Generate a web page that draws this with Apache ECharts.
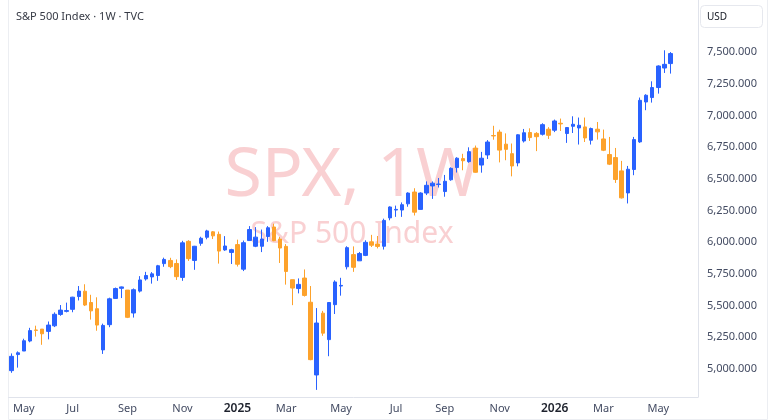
<!DOCTYPE html>
<html>
<head>
<meta charset="utf-8">
<script src="https://cdn.jsdelivr.net/npm/echarts@6/dist/echarts.min.js"></script>
<style>
  html, body { margin: 0; padding: 0; background: #ffffff; }
  #chart { width: 768px; height: 420px; }
</style>
</head>
<body>
<div id="chart"></div>
<script>
// weekly SPX candles, first bar = week of 2024-04-22
var firstWeek = Date.UTC(2024, 3, 22)

var opens = [
  4987, 5114, 5142, 5221, 5308, 5315, 5297, 5341, 5431, 5455,
  5471, 5572, 5614, 5525, 5476, 5151, 5350, 5557, 5637, 5623,
  5442, 5615, 5711, 5727, 5738, 5832, 5857, 5833, 5723, 6008,
  5857, 5992, 6040, 6083, 6063, 5940, 5920, 5982, 5788, 6014,
  5969, 5969, 6046, 6121, 6026, 5968, 5705, 5635, 5718, 5527,
  4953, 5441, 5232, 5508, 5655, 5807, 5903, 5854, 5897, 6004,
  5987, 5969, 6193, 6255, 6255, 6304, 6397, 6260, 6389, 6445,
  6457, 6401, 6494, 6590, 6661, 6637, 6744, 6610, 6690, 6843,
  6870, 6775, 6700, 6627, 6800, 6867, 6860, 6853, 6893, 6885,
  6940, 6859, 6916, 6903, 6911, 6806, 6893, 6816, 6693, 6669,
  6564, 6390, 6575, 6793, 7108, 7143, 7222, 7376, 7411
]
var closes = [
  5100, 5128, 5223, 5303, 5305, 5278, 5347, 5432, 5465, 5461,
  5567, 5615, 5505, 5459, 5347, 5344, 5554, 5635, 5648, 5408,
  5626, 5703, 5738, 5751, 5815, 5865, 5808, 5729, 5996, 5871,
  5969, 6032, 6090, 6051, 5931, 5971, 5942, 5827, 5997, 6101,
  6041, 6026, 6115, 6013, 5955, 5770, 5639, 5668, 5581, 5074,
  5363, 5283, 5525, 5687, 5660, 5958, 5803, 5912, 6000, 5977,
  5968, 6173, 6279, 6260, 6297, 6389, 6238, 6389, 6450, 6467,
  6460, 6482, 6584, 6664, 6644, 6716, 6553, 6664, 6792, 6840,
  6728, 6734, 6603, 6849, 6865, 6827, 6834, 6929, 6845, 6958,
  6935, 6906, 6932, 6924, 6824, 6898, 6872, 6727, 6617, 6496,
  6351, 6577, 6811, 7121, 7161, 7222, 7392, 7405, 7490
]
var lows = [
  4970, 5011, 5142, 5211, 5256, 5191, 5234, 5331, 5420, 5447,
  5448, 5541, 5497, 5390, 5302, 5119, 5330, 5560, 5560, 5402,
  5406, 5604, 5698, 5674, 5696, 5807, 5796, 5703, 5696, 5853,
  5783, 5973, 6024, 6026, 5832, 5933, 5829, 5809, 5773, 6014,
  5962, 5923, 6004, 6009, 5837, 5666, 5504, 5597, 5572, 5069,
  4835, 5262, 5101, 5434, 5579, 5786, 5767, 5854, 5891, 5963,
  5952, 5943, 6174, 6201, 6201, 6281, 6212, 6259, 6373, 6343,
  6433, 6360, 6486, 6551, 6569, 6628, 6550, 6550, 6658, 6810,
  6631, 6648, 6521, 6600, 6788, 6800, 6720, 6843, 6816, 6870,
  6879, 6785, 6863, 6772, 6792, 6772, 6811, 6720, 6610, 6469,
  6346, 6307, 6530, 6785, 7043, 7103, 7174, 7337, 7332
]
var highs = [
  5123, 5139, 5239, 5325, 5342, 5315, 5375, 5447, 5505, 5524,
  5570, 5655, 5669, 5586, 5566, 5358, 5563, 5643, 5651, 5623,
  5636, 5733, 5767, 5765, 5822, 5879, 5878, 5865, 6012, 6017,
  5972, 6044, 6099, 6089, 6085, 6049, 5949, 6021, 6014, 6128,
  6120, 6101, 6128, 6147, 6043, 5986, 5705, 5715, 5786, 5655,
  5481, 5459, 5528, 5700, 5720, 5969, 5968, 5924, 6016, 6059,
  6050, 6187, 6284, 6290, 6315, 6395, 6427, 6395, 6481, 6481,
  6508, 6532, 6592, 6672, 6699, 6750, 6764, 6714, 6807, 6920,
  6889, 6860, 6780, 6853, 6895, 6900, 6870, 6940, 6909, 6969,
  6977, 6909, 6995, 6985, 6985, 6906, 6950, 6890, 6832, 6745,
  6643, 6603, 6832, 7143, 7169, 7271, 7397, 7516, 7502
]
var priceTicks = [5000, 5250, 5500, 5750, 6000, 6250, 6500, 6750, 7000, 7250, 7500]
var monthNames = ['Jan', 'Feb', 'Mar', 'Apr', 'May', 'Jun', 'Jul', 'Aug', 'Sep', 'Oct', 'Nov', 'Dec']

var weeks = []
for (var i = 0; i < opens.length; i++) {
  weeks.push(new Date(firstWeek + i * 7 * 86400000).toISOString().slice(0, 10))
}
// empty slots on the right, like the chart's right margin
var categories = weeks.concat(['pad1', 'pad2', 'pad3', 'pad4'])

var candles = []
for (var k = 0; k < opens.length; k++) {
  candles.push([opens[k], closes[k], lows[k], highs[k]])
}

// first bar of each odd month gets a label
var labelAt = {}
for (var w = 1; w < weeks.length; w++) {
  var m = +weeks[w].slice(5, 7) - 1
  var mPrev = +weeks[w - 1].slice(5, 7) - 1
  if (m !== mPrev && m % 2 === 0) {
    labelAt[w] = m === 0 ? '{yr|' + weeks[w].slice(0, 4) + '}' : '{mo|' + monthNames[m] + '}'
  }
}

function priceText (v) {
  var th = Math.floor(v / 1000)
  var rest = String(Math.round(v % 1000)).padStart(3, '0')
  return th + ',' + rest + '.000'
}

var axisColor = '#e0e3eb'
var labelColor = '#434b62'

var option = {
  animation: false,
  backgroundColor: '#ffffff',
  grid: { left: 8.6, right: 70, top: 0, bottom: 23 },
  xAxis: {
    type: 'category',
    data: categories,
    boundaryGap: true,
    axisLine: { show: true, lineStyle: { color: axisColor } },
    axisTick: { show: false },
    splitLine: { show: false },
    axisLabel: {
      margin: 6,
      interval: function (idx) { return labelAt[idx] !== undefined },
      formatter: function (val, idx) { return labelAt[idx] || '' },
      rich: {
        mo: { fontFamily: 'Noto Sans', fontSize: 11, color: labelColor },
        yr: { fontFamily: 'Noto Sans', fontSize: 12, fontWeight: 600, color: '#1e222d' }
      }
    }
  },
  yAxis: {
    type: 'value',
    position: 'right',
    min: 4779,
    max: 7913,
    axisLine: { show: true, lineStyle: { color: axisColor } },
    axisTick: { show: false },
    splitLine: { show: false },
    axisLabel: {
      customValues: priceTicks,
      margin: 9,
      fontFamily: 'Noto Sans',
      fontSize: 11,
      color: labelColor,
      formatter: priceText
    }
  },
  graphic: [
    {
      type: 'rect', z: 0, silent: true,
      shape: { x: 8.5, y: -1, width: 759, height: 420.5 },
      style: { fill: 'none', stroke: '#eceef2', lineWidth: 1 }
    },
    {
      type: 'text', z: 0, silent: true,
      x: 352, y: 177,
      style: {
        text: 'SPX, 1W', fontFamily: 'Noto Sans', fontSize: 68,
        fill: '#f9d0d2', align: 'center', verticalAlign: 'middle'
      }
    },
    {
      type: 'text', z: 0, silent: true,
      x: 352, y: 234,
      style: {
        text: 'S&P 500 Index', fontFamily: 'Noto Sans', fontSize: 30,
        fill: '#f9d0d2', align: 'center', verticalAlign: 'middle'
      }
    },
    {
      type: 'text', z: 10, silent: true,
      x: 16, y: 17,
      style: {
        text: 'S&P 500 Index · 1W · TVC', fontFamily: 'Noto Sans', fontSize: 11,
        fill: '#363a45', verticalAlign: 'middle'
      }
    },
    {
      type: 'rect', z: 10, silent: true,
      shape: { x: 700.5, y: 5.5, width: 62, height: 22, r: 4 },
      style: { fill: '#ffffff', stroke: '#e6e8ee', lineWidth: 1 }
    },
    {
      type: 'text', z: 11, silent: true,
      x: 707, y: 17,
      style: {
        text: 'USD', fontFamily: 'Noto Sans', fontSize: 10,
        fill: '#131722', verticalAlign: 'middle'
      }
    }
  ],
  series: [
    {
      type: 'candlestick',
      data: candles,
      barWidth: 4,
      z: 5,
      itemStyle: {
        color: '#2962ff',
        color0: '#fda22b',
        borderColor: '#2962ff',
        borderColor0: '#fda22b',
        borderWidth: 1
      }
    }
  ]
}

var chart = echarts.init(document.getElementById('chart'), null, { renderer: 'canvas' })
chart.setOption(option)
</script>
</body>
</html>
